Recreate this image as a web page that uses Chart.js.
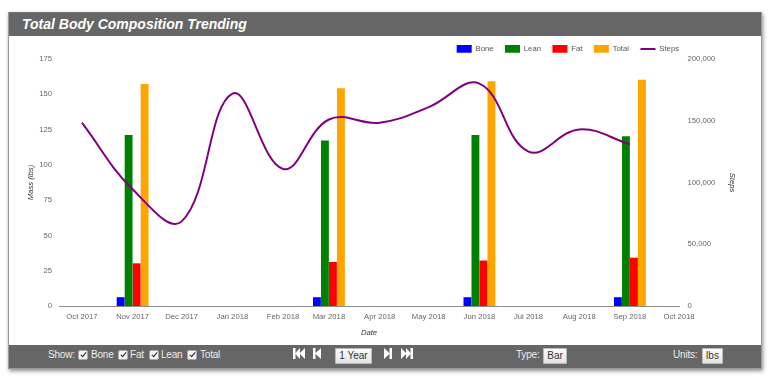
<!DOCTYPE html>
<html>
<head>
<meta charset="utf-8">
<script src="https://cdn.jsdelivr.net/npm/chart.js@4/dist/chart.umd.min.js"></script>
<style>
  html, body { margin: 0; padding: 0; background: #fff; }
  body { width: 770px; height: 381px; position: relative; overflow: hidden; font-family: "Liberation Sans", Arial, sans-serif; }
  #panel { position: absolute; left: 8px; top: 12px; width: 752px; height: 355px; border: 1px solid #9a9a9a; border-top: 1px solid #777;
           box-shadow: 1px 2px 4px rgba(0,0,0,0.45); background: #fff; }
  #header { position: absolute; left: 0; top: 0; width: 752px; height: 23px; background: #666; }
  #header span { position: absolute; left: 13px; top: 0; line-height: 23px; font-size: 14px; font-weight: bold; font-style: italic; color: #fff; white-space: nowrap; }
  #chartWrap { position: absolute; left: 0; top: 23px; width: 752px; height: 309px; }
  #footer { position: absolute; left: 0; top: 332px; width: 752px; height: 23px; background: #666; color: #ececec; font-size: 10px; }
  #footer .t { position: absolute; top: 0; line-height: 19px; white-space: nowrap; letter-spacing: -0.2px; }
  #footer .cb { position: absolute; top: 5px; width: 8px; height: 8px; background: #f6f6f6; border: 1px solid #aaa; border-radius: 2px; }
  #footer .cb::after { content: ""; position: absolute; left: 2.5px; top: 0px; width: 2px; height: 5px; border: solid #222; border-width: 0 1.6px 1.6px 0; transform: rotate(40deg); }
  #footer .btn { position: absolute; top: 3px; height: 16px; line-height: 16px; text-align: center; color: #333; font-size: 10px;
                 background: linear-gradient(#fdfdfd, #e2e2e2); border-radius: 2px; box-shadow: 0 0 0 1px #bbb inset; }
  #footer svg { position: absolute; top: 3px; }
</style>
</head>
<body>
<div id="panel">
  <div id="header"><span>Total Body Composition Trending</span></div>
  <div id="chartWrap"><canvas id="c" width="752" height="309"></canvas></div>
  <div id="footer">
    <span class="t" style="left:39px">Show:</span>
    <span class="cb" style="left:69px"></span><span class="t" style="left:82px">Bone</span>
    <span class="cb" style="left:109px"></span><span class="t" style="left:121px">Fat</span>
    <span class="cb" style="left:140px"></span><span class="t" style="left:152px">Lean</span>
    <span class="cb" style="left:178px"></span><span class="t" style="left:191px">Total</span>
    <svg style="left:284px" width="12" height="11" viewBox="0 0 12 11"><rect x="0" y="0" width="2.5" height="11" fill="#fff"/><polygon points="2,5.5 7,0 7,11" fill="#fff"/><polygon points="6.5,5.5 12,0 12,11" fill="#fff"/></svg>
    <svg style="left:304px" width="8" height="11" viewBox="0 0 8 11"><rect x="0" y="0" width="2.5" height="11" fill="#fff"/><polygon points="2,5.5 8,0 8,11" fill="#fff"/></svg>
    <span class="btn" style="left:326px;width:37px">1 Year</span>
    <svg style="left:375px" width="8" height="11" viewBox="0 0 8 11"><polygon points="0,0 6,5.5 0,11" fill="#fff"/><rect x="5.5" y="0" width="2.5" height="11" fill="#fff"/></svg>
    <svg style="left:392px" width="12" height="11" viewBox="0 0 12 11"><polygon points="0,0 5.5,5.5 0,11" fill="#fff"/><polygon points="5,0 10,5.5 5,11" fill="#fff"/><rect x="9.5" y="0" width="2.5" height="11" fill="#fff"/></svg>
    <span class="t" style="left:507px">Type:</span>
    <span class="btn" style="left:534px;width:24px">Bar</span>
    <span class="t" style="left:664px">Units:</span>
    <span class="btn" style="left:693px;width:21px">lbs</span>
  </div>
</div>
<script>
// ---- data ----
const axisStartDate = '2017-09-17';
const axisEndDate = '2018-10-01';
const tickDates = ['2017-10-01','2017-11-01','2017-12-01','2018-01-01','2018-02-01','2018-03-01','2018-04-01',
                   '2018-05-01','2018-06-01','2018-07-01','2018-08-01','2018-09-01','2018-10-01'];
const tickLabels = ['Oct 2017','Nov 2017','Dec 2017','Jan 2018','Feb 2018','Mar 2018','Apr 2018',
                    'May 2018','Jun 2018','Jul 2018','Aug 2018','Sep 2018','Oct 2018'];
const scanDates = ['2017-11-01','2018-03-01','2018-06-01','2018-09-01'];
const bone  = [6, 6, 6, 6];
const lean  = [121, 117, 121, 120];
const fat   = [30, 31, 32, 34];
const total = [157, 154, 159, 160];
const stepDates = ['2017-10-01','2017-11-01','2017-12-01','2018-01-01','2018-02-01','2018-03-01',
                   '2018-04-01','2018-05-01','2018-06-01','2018-07-01','2018-08-01','2018-09-01'];
const steps = [148400, 94500, 68500, 172000, 111000, 151000, 148400, 161000, 180000, 125000, 143000, 131000];
const massTicks = { min: 0, max: 175, step: 25 };
const stepTicks = { min: 0, max: 200000, step: 50000 };

// ---- helpers ----
const base = Date.UTC(2017, 9, 1);
const toDay = s => (Date.UTC(+s.slice(0,4), +s.slice(5,7) - 1, +s.slice(8,10)) - base) / 86400000;
const pts = (dates, vals) => dates.map((d, i) => ({ x: toDay(d), y: vals[i] }));
const tickValues = tickDates.map(toDay);

const FONT = "'Liberation Sans', Arial, sans-serif";
const fs = 7.7;

// place the legend row so that it ends at the right edge of the plot area
const legendShift = {
  id: 'legendShift',
  afterLayout(chart) {
    const lg = chart.legend;
    const pad = lg.options.labels.padding;
    const top = 12.9 - pad - fs / 2;
    const h = lg.bottom - lg.top;
    lg.top = top; lg.bottom = top + h;
    lg.left = chart.chartArea.right - lg.lineWidths[0];
    lg.right = chart.width + 200;
  }
};

const barCommon = { yAxisID: 'yMass', barThickness: 8, maxBarThickness: 7.2, borderWidth: 0, pointStyle: 'rect' };

new Chart(document.getElementById('c'), {
  type: 'bar',
  data: {
    datasets: [
      Object.assign({ label: 'Bone',  data: pts(scanDates, bone),  backgroundColor: '#0000ff' }, barCommon),
      Object.assign({ label: 'Lean',  data: pts(scanDates, lean),  backgroundColor: '#008000' }, barCommon),
      Object.assign({ label: 'Fat',   data: pts(scanDates, fat),   backgroundColor: '#ff0000' }, barCommon),
      Object.assign({ label: 'Total', data: pts(scanDates, total), backgroundColor: '#ffa500' }, barCommon),
      { type: 'line', label: 'Steps', data: pts(stepDates, steps), yAxisID: 'ySteps', order: -1,
        borderColor: '#800080', backgroundColor: '#800080', borderWidth: 2, tension: 0.4,
        pointRadius: 0, pointHoverRadius: 0, fill: false, pointStyle: 'line' }
    ]
  },
  options: {
    responsive: false,
    animation: false,
    devicePixelRatio: 1,
    layout: { padding: { top: -6.2, left: 0, right: 0, bottom: 0 } },
    plugins: {
      tooltip: { enabled: false },
      legend: {
        position: 'top',
        align: 'start',
        labels: {
          usePointStyle: true, pointStyleWidth: 15, boxWidth: 15, boxHeight: fs,
          padding: 11.5, color: '#555', font: { family: FONT, size: fs },
          sort: (a, b) => a.datasetIndex - b.datasetIndex
        }
      }
    },
    scales: {
      x: {
        type: 'linear',
        offset: false,
        min: toDay(axisStartDate),
        max: toDay(axisEndDate),
        grid: { display: false, drawTicks: false },
        border: { display: true, color: '#8c8c8c', width: 1 },
        afterBuildTicks: s => { s.ticks = tickValues.map(v => ({ value: v })); },
        afterFit: s => { s.height = 39; },
        ticks: {
          autoSkip: false, maxRotation: 0, padding: 6.5, color: '#666',
          font: { family: FONT, size: fs },
          callback: (v, i) => tickLabels[i]
        },
        title: { display: true, text: 'Date', color: '#333', font: { family: FONT, size: fs, style: 'italic' }, padding: { top: 2, bottom: 8 } }
      },
      yMass: {
        type: 'linear', position: 'left',
        min: massTicks.min, max: massTicks.max,
        grid: { display: false, drawTicks: false },
        border: { display: false },
        afterFit: s => { s.width = 50; },
        ticks: { stepSize: massTicks.step, padding: 7, color: '#666', font: { family: FONT, size: fs } },
        title: { display: true, text: 'Mass (lbs)', color: '#333', font: { family: FONT, size: fs, style: 'italic' }, padding: { top: 17.4, bottom: 2 } }
      },
      ySteps: {
        type: 'linear', position: 'right',
        min: stepTicks.min, max: stepTicks.max,
        grid: { display: false, drawTicks: false },
        border: { display: false },
        afterFit: s => { s.width = 82; },
        ticks: { stepSize: stepTicks.step, padding: 8.5, color: '#666', font: { family: FONT, size: fs },
                 callback: v => v.toLocaleString('en-US') },
        title: { display: true, text: 'Steps', color: '#333', font: { family: FONT, size: fs, style: 'italic' }, padding: { top: 24.4, bottom: 2 } }
      }
    }
  },
  plugins: [legendShift]
});
</script>
</body>
</html>
